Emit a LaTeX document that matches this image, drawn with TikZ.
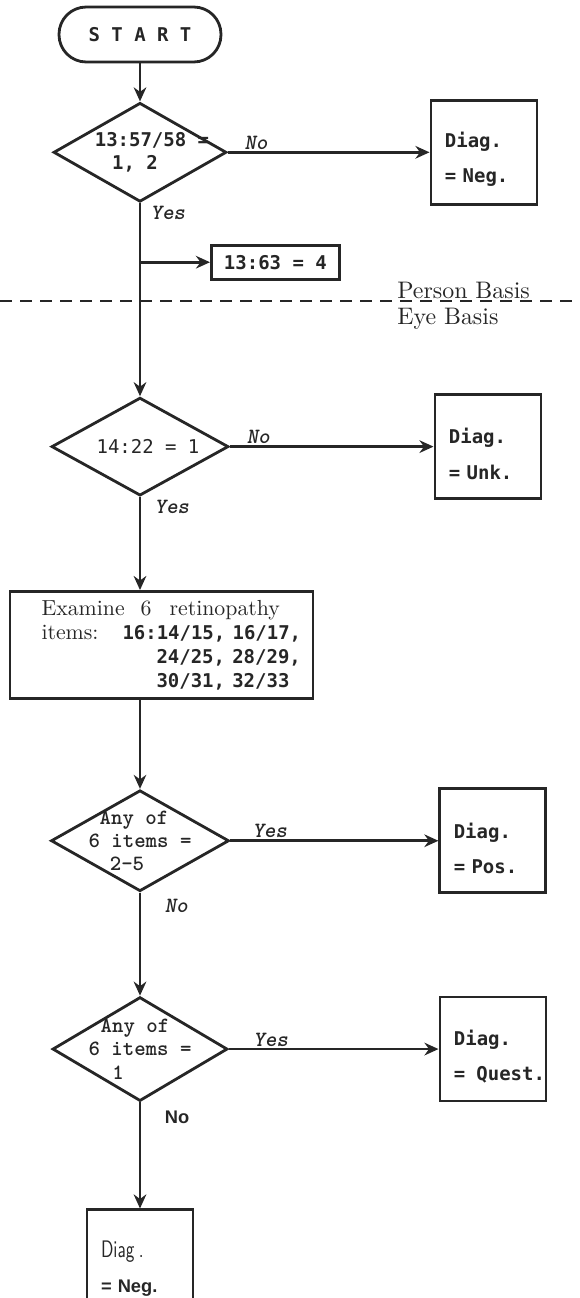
\documentclass[tikz,border=0pt]{standalone}
\usepackage{fontspec}
\usepackage{graphicx}
\setmainfont{lmroman10-regular.otf}[ItalicFont=lmroman10-italic.otf, BoldFont=lmroman10-bold.otf]
\setsansfont{lmsans10-regular.otf}[BoldFont=lmsans10-bold.otf]
\setmonofont{DejaVu Sans Mono}
\newfontfamily\typefont{lmmonolt10-bold.otf}[ItalicFont=lmmonolt10-boldoblique.otf]
\newfontfamily\arialfont{Liberation Sans}
\usepackage{tikz}
\usetikzlibrary{positioning, shapes.geometric, arrows.meta}
\definecolor{ink}{gray}{0.15}
\newcommand{\zw}[1]{\makebox[0pt]{#1}}
\newcommand{\tnum}[1]{{\ttfamily\bfseries\fontsize{13.5}{17}\selectfont #1}}
\newcommand{\dtop}{\rule{0pt}{0.75cm}}

\begin{document}
\begin{tikzpicture}[node distance = 1cm, auto,
  flow/.style={-{Stealth[length=10pt, width=9pt]}, line width=2pt, draw=ink},
  thinflow/.style={flow, line width=1.1pt},
  startbox/.style={draw=ink, text=ink, line width=2pt, rounded corners=0.68cm, minimum width=4.05cm, minimum height=1.375cm, font=\fontsize{13.5}{16}\selectfont\ttfamily\bfseries},
  decision/.style={diamond, draw=ink, text=ink, line width=2pt, inner sep=0pt, align=center},
  diagbox/.style={draw=ink, text=ink, line width=2pt, text width=1.95cm, inner xsep=0.35cm, minimum height=2.6cm, align=left, font=\fontsize{13.5}{25}\selectfont\ttfamily\bfseries},
  smallbox/.style={draw=ink, text=ink, line width=2pt, minimum width=3.2cm, minimum height=0.85cm, font=\fontsize{13.5}{16}\selectfont\ttfamily\bfseries},
  procbox/.style={draw=ink, text=ink, line width=2pt, text width=7.2cm, inner xsep=0.1875cm, minimum height=2.675cm, align=left, font=\fontsize{15.5}{17}\selectfont},
  lbl/.style={text=ink, inner sep=1pt, font=\fontsize{15.5}{17}\selectfont\typefont\itshape},
  nolbl/.style={text=ink, inner sep=1pt, font=\fontsize{13}{15}\selectfont\arialfont\bfseries},
  basis/.style={text=ink, inner sep=0pt, font=\fontsize{17}{19}\selectfont},
  basisline/.style={draw=ink, line width=1.4pt, dash pattern=on 0.3cm off 0.2cm}]
\useasboundingbox (0,0) rectangle (14.5,-32.45);
\node[startbox] (start) at (3.5,-0.8625) {S T A R T};
\node[decision, below=0.95cm of start, minimum width=4.325cm, minimum height=2.475cm, font=\fontsize{13.5}{16.5}\selectfont\ttfamily\bfseries] (d1) {\zw{\hspace*{0.6cm}13:57/58 =}\\\zw{1, 2\hspace*{0.25cm}}};
\draw[flow] (start) -- (d1);
\node[diagbox, right=5.04cm of d1] (neg1) {\dtop Diag.\\= Neg.};
\draw[flow] (d1) -- node[lbl, pos=0.14, above] (lno1) {No} (neg1);
\coordinate[below=1.475cm of d1.south] (br);
\node[smallbox, right=1.75cm of br] (b1363) {13:63 = 4};
\node[decision, below=4.825cm of d1, minimum width=4.425cm, minimum height=2.45cm, font=\fontsize{13.5}{16.5}\selectfont\ttfamily] (d2) {\zw{\hspace*{0.4cm}14:22 = 1}};
\draw[flow] (d1) -- node[lbl, pos=0, below right, xshift=0.2cm] (lyes1) {Yes} (d2);
\draw[flow] (br) -- (b1363);
\coordinate (bl) at (0,-7.525);
\coordinate (bri) at (14.5,-7.525);
\draw[basisline] (bl) -- (bri);
\node[basis, anchor=base west] (person) at (9.925,-7.45) {Person Basis};
\node[basis, anchor=base west] (eye) at (9.925,-8.1) {Eye Basis};
\node[diagbox, right=5.09cm of d2] (unk) {\dtop Diag.\\= Unk.};
\draw[flow] (d2) -- node[lbl, pos=0.14, above] (lno2) {No} (unk);
\node[procbox, below=2.325cm of d2, xshift=0.5375cm] (exam) {\hspace*{0.6cm}\mbox{Examine\hspace{0.4cm}6\hspace{0.45cm}retinopathy}\\
\hspace*{0.6cm}\mbox{\makebox[2.025cm][l]{items:}\tnum{16:14/15, 16/17,}}\\
\hspace*{3.475cm}\mbox{\tnum{24/25, 28/29,}}\\
\hspace*{3.475cm}\mbox{\tnum{30/31, 32/33}}};
\draw[flow] (d2.south) -- node[lbl, pos=0, below right, xshift=0.3cm] (lyes2) {Yes} (d2.south |- exam.north);
\coordinate (c3) at (d2.south |- exam.south);
\node[decision, below=2.225cm of c3, minimum width=4.45cm, minimum height=2.525cm, font=\fontsize{15.5}{16.5}\selectfont\typefont] (d3) {\zw{Any of\hspace*{0.3cm}}\\\zw{6 items =}\\\zw{2-5\hspace*{0.65cm}}};
\draw[thinflow] (c3) -- (d3);
\node[diagbox, right=5.2cm of d3] (pos) {\dtop Diag.\\= Pos.};
\draw[flow] (d3) -- node[lbl, pos=0.19, above] (lyes3) {Yes} (pos);
\node[decision, below=2.575cm of d3, minimum width=4.375cm, minimum height=2.6cm, font=\fontsize{15.5}{16.5}\selectfont\typefont] (d4) {\zw{Any of\hspace*{0.25cm}}\\\zw{6 items =}\\\zw{1\hspace*{1.1cm}}};
\draw[flow] (d3) -- node[lbl, pos=0, below right, xshift=0.55cm, yshift=-0.1cm] (lno3) {No} (d4);
\node[diagbox, right=5.24cm of d4] (quest) {\dtop Diag.\\\mbox{= \hspace{0.12cm}Quest.}};
\draw[flow] (d4) -- node[lbl, pos=0.2, above] (lyes4) {Yes} (quest);
\node[diagbox, below=2.65cm of d4, font=\fontsize{13}{25}\selectfont] (neg2) {\dtop\scalebox{0.72}[1]{\sffamily\fontsize{17}{19}\selectfont Diag\ .}\\{\arialfont\bfseries = Neg.}};
\draw[flow] (d4) -- node[nolbl, pos=0, below right, xshift=0.55cm, yshift=-0.15cm] (lno4) {No} (neg2);
\end{tikzpicture}
\end{document}
